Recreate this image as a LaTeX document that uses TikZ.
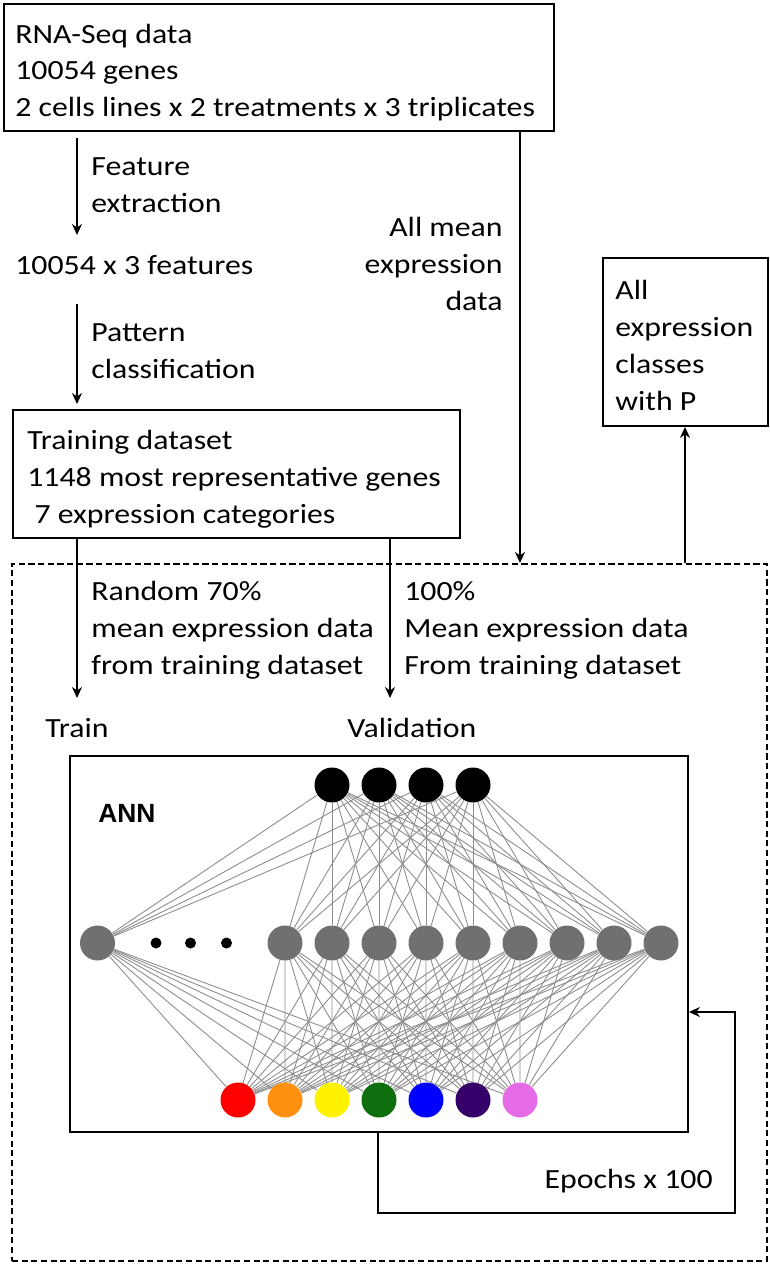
\documentclass[tikz,border=0pt]{standalone}
\usepackage{fontspec}
\setmainfont{Carlito}[FakeStretch=1.145]
\newfontfamily\annfont{Liberation Sans}
\usetikzlibrary{arrows.meta,backgrounds}

\definecolor{nGray}{HTML}{707070}
\definecolor{nOrange}{HTML}{FF910F}
\definecolor{nGreen}{HTML}{0D6E0D}
\definecolor{nPurple}{HTML}{36006B}
\definecolor{nViolet}{HTML}{E66BE6}

\begin{document}
\begin{tikzpicture}[y=-1cm, >={Stealth[length=2.2mm,width=2mm]},
  font=\fontsize{15.8}{21}\selectfont,
  box/.style={draw, line width=1.1pt, anchor=north west, inner sep=0pt},
  txt/.style={align=left, inner sep=0pt},
  flow/.style={line width=1.1pt, ->},
  unit/.style={circle, minimum size=0.7cm, inner sep=0pt},
  link/.style={black!45, line width=0.5pt}]

\useasboundingbox (0,0) rectangle (15.38,25.28);

\node[box, minimum width=11cm, minimum height=2.54cm] (rna) at (0.06,0.06) {};
\node[txt, anchor=west] (rnatxt) at (0.3,1.45) {RNA-Seq data\\10054 genes\\2 cells lines x 2 treatments x 3 triplicates};

\node[txt, anchor=west] (fext) at (1.82,3.7) {Feature\\extraction};
\node[txt, anchor=west] (feat) at (0.3,5.3) {10054 x 3 features};
\node[txt, anchor=west] (pcls) at (1.82,7.03) {Pattern\\classification};

\node[box, minimum width=8.94cm, minimum height=2.56cm] (train) at (0.24,8.18) {};
\node[txt, anchor=west] (traintxt) at (0.54,9.58) {Training dataset\\1148 most representative genes\\\ 7 expression categories};

\node[txt, anchor=east, align=right] (amean) at (10.06,5.28) {All mean\\expression\\data};

\node[box, minimum width=3.3cm, minimum height=3.36cm] (res) at (12.04,5.14) {};
\node[txt, anchor=west] (restxt) at (12.3,6.91) {All\\expression\\classes\\with P};

\node[box, dash pattern=on 3.5pt off 2pt, minimum width=15.1cm, minimum height=13.94cm] (loop) at (0.22,11.26) {};
\node[txt, anchor=west] (rnd) at (1.82,12.61) {Random 70\%\\mean expression data\\from training dataset};
\node[txt, anchor=west] (full) at (8.08,12.61) {100\%\\Mean expression data\\From training dataset};
\node[txt] (trn) at (1.54,14.56) {Train};
\node[txt, anchor=west] (val) at (6.94,14.56) {Validation};

\node[box, minimum width=12.36cm, minimum height=7.52cm] (ann) at (1.38,15.1) {};
\node[txt, anchor=west, font=\fontsize{15}{18}\selectfont\annfont\bfseries] (annlbl) at (1.96,16.26) {ANN};

% layers of the net
\foreach \i in {1,...,4}
  \node[unit, fill=black] (t\i) at ({5.7+0.94*\i},15.7) {};
\node[unit, fill=nGray] (m0) at (1.95,18.86) {};
\foreach \i in {1,...,9}
  \node[unit, fill=nGray] (m\i) at ({4.76+0.94*\i},18.86) {};
\foreach \x in {3.12,3.81,4.53}
  \node[circle, fill=black, minimum size=0.22cm, inner sep=0pt] at (\x,18.86) {};
\foreach \c [count=\i] in {red,nOrange,yellow,nGreen,blue,nPurple,nViolet}
  \node[unit, fill=\c] (b\i) at ({3.82+0.94*\i},22.0) {};

\begin{scope}[on background layer]
\foreach \i in {1,...,4}
  \foreach \j in {0,...,9}
    \draw[link] (t\i) -- (m\j);
\foreach \j in {0,...,9}
  \foreach \k in {1,...,7}
    \draw[link] (m\j) -- (b\k);
\end{scope}

% connectors
\coordinate (xa) at (1.54,4.7);
\coordinate (xb) at (1.54,6.08);
\coordinate (xc) at (10.4,0);
\coordinate (xd) at (13.7,0);
\coordinate (xe) at (1.54,13.96);
\coordinate (xf) at (7.8,13.96);
\coordinate (xg) at (7.56,24.26);
\coordinate (xh) at (14.7,20.24);

\draw[flow, shorten <=0.12cm] (rna.south -| xa) -- (xa);
\draw[flow, shorten >=0.1cm] (xb) -- (train.north -| xb);
\draw[flow] (rna.south -| xc) -- (loop.north -| xc);
\draw[flow] (loop.north -| xd) -- (res.south -| xd);
\draw[flow] (train.south -| xe) -- (xe);
\draw[flow] (train.south -| xf) -- (xf);
\draw[flow] (ann.south -| xg) |- (xh |- xg) -- (xh) -- (ann.east |- xh);
\node[txt, anchor=east] (epo) at (14.26,23.62) {Epochs x 100};

\end{tikzpicture}
\end{document}
